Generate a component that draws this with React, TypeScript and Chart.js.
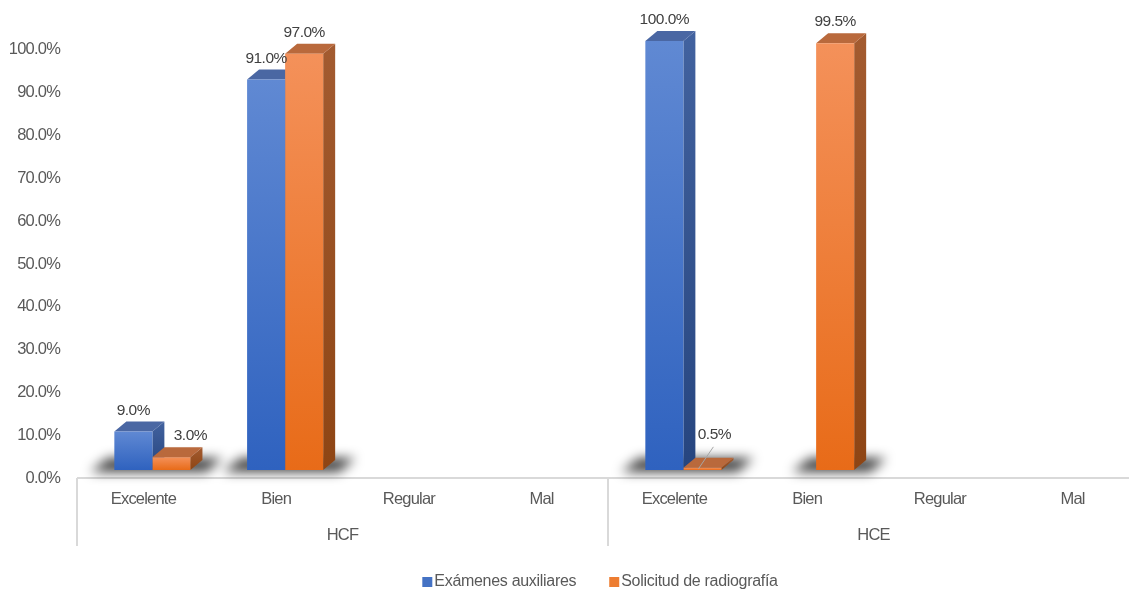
import React, { useEffect, useRef } from 'react';
import { Chart, registerables } from 'chart.js';

Chart.register(...registerables);

const categories = ['Excelente', 'Bien', 'Regular', 'Mal', 'Excelente', 'Bien', 'Regular', 'Mal'];
const groups = ['HCF', 'HCE'];
const seriesNames = ['Exámenes auxiliares', 'Solicitud de radiografía'];
const examenes: (number | null)[] = [9.0, 91.0, null, null, 100.0, null, null, null];
const solicitud: (number | null)[] = [3.0, 97.0, null, null, 0.5, 99.5, null, null];
const yMin = 0;
const yMax = 100;
const yStep = 10;

const FONT = '"Liberation Sans", Arial, sans-serif';
const TICK_COLOR = '#595959';
const LABEL_COLOR = '#404040';

const palette = [
  { frontTop: '#6089d3', frontBottom: '#2f62bf', sideTop: '#42629f', sideBottom: '#26457f', top: '#4a67a3', legend: '#4472c4' },
  { frontTop: '#f4915a', frontBottom: '#e86b18', sideTop: '#a35b30', sideBottom: '#8e4514', top: '#b9693c', legend: '#ed7d31' },
];

const DX = 12;
const DY = 10;
const LABEL_GAP = 21;
const labelShift: Record<string, [number, number, boolean]> = {
  '1-0': [19, 0, false],
  '1-4': [12, -12, true],
};

const ok = (...n: number[]) => n.every((v) => Number.isFinite(v));

const threeD = {
  id: 'threeD',
  beforeDraw(chart: any) {
    (chart.ctx as any).letterSpacing = '-0.8px';
  },
  beforeDatasetsDraw(chart: any) {
    const ctx = chart.ctx as CanvasRenderingContext2D;
    const ca = chart.chartArea;
    const yS = chart.scales.y;
    const base = yS.getPixelForValue(0);
    const catW = (ca.right - ca.left) / categories.length;
    const floorY = base + 8;
    ctx.save();
    ctx.strokeStyle = '#d9d9d9';
    ctx.lineWidth = 2;
    ctx.beginPath();
    ctx.moveTo(ca.left - 9, floorY);
    ctx.lineTo(chart.width, floorY);
    for (let g = 0; g <= groups.length; g++) {
      const x = ca.left - 9 + g * 4 * catW;
      ctx.moveTo(x, floorY);
      ctx.lineTo(x, floorY + 68);
    }
    ctx.stroke();
    ctx.fillStyle = TICK_COLOR;
    ctx.font = `16.5px ${FONT}`;
    (ctx as any).letterSpacing = '-0.8px';
    ctx.textAlign = 'center';
    ctx.textBaseline = 'middle';
    groups.forEach((g, i) => {
      const x = ca.left - 9 + (i * 4 + 2) * catW;
      ctx.fillText(g, x, floorY + 57);
    });
    ctx.restore();

    ctx.save();
    ctx.filter = 'blur(6px)';
    ctx.fillStyle = 'rgba(0,0,0,0.75)';
    ctx.beginPath();
    chart.data.datasets.forEach((ds: any, di: number) => {
      const meta = chart.getDatasetMeta(di);
      meta.data.forEach((bar: any, i: number) => {
        const v = ds.data[i];
        if (v == null || v <= 0) return;
        const l = bar.x - bar.width / 2;
        const r = bar.x + bar.width / 2;
        ctx.moveTo(l - 24, base + 2);
        ctx.lineTo(r + 16, base + 2);
        ctx.lineTo(r + 32, base - 12);
        ctx.lineTo(l - 6, base - 12);
        ctx.closePath();
      });
    });
    ctx.fill();
    ctx.restore();

    for (let i = 0; i < categories.length; i++) {
      chart.data.datasets.forEach((ds: any, di: number) => {
        const v = ds.data[i];
        if (v == null) return;
        const bar = chart.getDatasetMeta(di).data[i];
        const l = bar.x - bar.width / 2;
        const r = bar.x + bar.width / 2;
        const t = bar.y;
        const b = bar.base;
        if (!ok(l, r, t, b)) return;
        const p = palette[di];
        const sg = ctx.createLinearGradient(0, t - DY, 0, Math.max(b, t + 1));
        sg.addColorStop(0, p.sideTop);
        sg.addColorStop(1, p.sideBottom);
        ctx.fillStyle = sg;
        ctx.beginPath();
        ctx.moveTo(r, t);
        ctx.lineTo(r + DX, t - DY);
        ctx.lineTo(r + DX, b - DY);
        ctx.lineTo(r, b);
        ctx.closePath();
        ctx.fill();
        ctx.fillStyle = p.top;
        ctx.beginPath();
        ctx.moveTo(l, t);
        ctx.lineTo(r, t);
        ctx.lineTo(r + DX, t - DY);
        ctx.lineTo(l + DX, t - DY);
        ctx.closePath();
        ctx.fill();
      });
    }
  },
  afterDraw(chart: any) {
    const ctx = chart.ctx as CanvasRenderingContext2D;
    ctx.save();
    ctx.font = `15.5px ${FONT}`;
    (ctx as any).letterSpacing = '-0.5px';
    ctx.textAlign = 'center';
    ctx.textBaseline = 'middle';
    chart.data.datasets.forEach((ds: any, di: number) => {
      const meta = chart.getDatasetMeta(di);
      meta.data.forEach((bar: any, i: number) => {
        const v = ds.data[i];
        if (v == null) return;
        const sh = labelShift[`${di}-${i}`] || [0, 0, false];
        const lx = bar.x + sh[0];
        const ly = bar.y - LABEL_GAP + sh[1];
        ctx.fillStyle = LABEL_COLOR;
        ctx.fillText(`${v.toFixed(1)}%`, lx, ly);
        if (sh[2]) {
          ctx.strokeStyle = '#a6a6a6';
          ctx.lineWidth = 1;
          ctx.beginPath();
          ctx.moveTo(lx - 1, ly + 12);
          ctx.lineTo(bar.x - 4, bar.y + 1);
          ctx.stroke();
        }
      });
    });
    ctx.font = `16px ${FONT}`;
    (ctx as any).letterSpacing = '-0.3px';
    ctx.textAlign = 'left';
    const w = seriesNames.map((s) => ctx.measureText(s).width);
    const box = 10;
    const gapText = 2;
    const gapItem = 33;
    const total = w.reduce((a, b) => a + b, 0) + seriesNames.length * (box + gapText) + gapItem * (seriesNames.length - 1);
    let x = 600 - total / 2;
    const ly = 582;
    seriesNames.forEach((s, i) => {
      ctx.fillStyle = palette[i].legend;
      ctx.fillRect(x, ly - 5, box, box);
      ctx.fillStyle = TICK_COLOR;
      ctx.fillText(s, x + box + gapText, ly);
      x += box + gapText + w[i] + gapItem;
    });
    ctx.restore();
  },
};

function frontColor(di: number) {
  return (c: any) => {
    const p = palette[di];
    const y = c.chart.scales?.y;
    if (!y || c.type !== 'data' || c.parsed == null || c.parsed.y == null) return p.frontBottom;
    const top = y.getPixelForValue(c.parsed.y);
    const base = y.getPixelForValue(0);
    if (!ok(top, base)) return p.frontBottom;
    const g = c.chart.ctx.createLinearGradient(0, top, 0, Math.max(base, top + 1));
    g.addColorStop(0, p.frontTop);
    g.addColorStop(1, p.frontBottom);
    return g;
  };
}

export default function App() {
  const ref = useRef<HTMLCanvasElement>(null);
  useEffect(() => {
    if (!ref.current) return;
    const chart = new Chart(ref.current, {
      type: 'bar',
      data: {
        labels: categories,
        datasets: [
          { label: seriesNames[0], data: examenes, backgroundColor: frontColor(0), borderWidth: 0 },
          { label: seriesNames[1], data: solicitud, backgroundColor: frontColor(1), borderWidth: 0 },
        ],
      },
      options: {
        responsive: false,
        animation: false,
        layout: { padding: { top: 41, right: 2, left: 0, bottom: 0 } },
        datasets: { bar: { categoryPercentage: 0.573, barPercentage: 1 } },
        plugins: { legend: { display: false }, tooltip: { enabled: false } },
        scales: {
          x: {
            grid: { display: false, drawTicks: false },
            border: { display: false },
            ticks: { font: { family: FONT, size: 16.5 }, color: TICK_COLOR, padding: 20, labelOffset: -9, maxRotation: 0, autoSkip: false },
            afterFit: (s: any) => { s.height = 124; },
          },
          y: {
            min: yMin,
            max: yMax,
            grid: { display: false, drawTicks: false },
            border: { display: false },
            ticks: {
              stepSize: yStep,
              font: { family: FONT, size: 16.5 },
              color: TICK_COLOR,
              padding: 26,
              labelOffset: 8.5,
              callback: (v: any) => `${Number(v).toFixed(1)}%`,
            },
            afterFit: (s: any) => { s.width = 86; },
          },
        },
      },
      plugins: [threeD],
    });
    return () => chart.destroy();
  }, []);
  return (
    <div style={{ position: 'fixed', left: 0, top: 0, width: 1129, height: 594, overflow: 'hidden', background: '#fff' }}>
      <canvas ref={ref} width={1150} height={594} style={{ display: 'block' }} />
    </div>
  );
}
